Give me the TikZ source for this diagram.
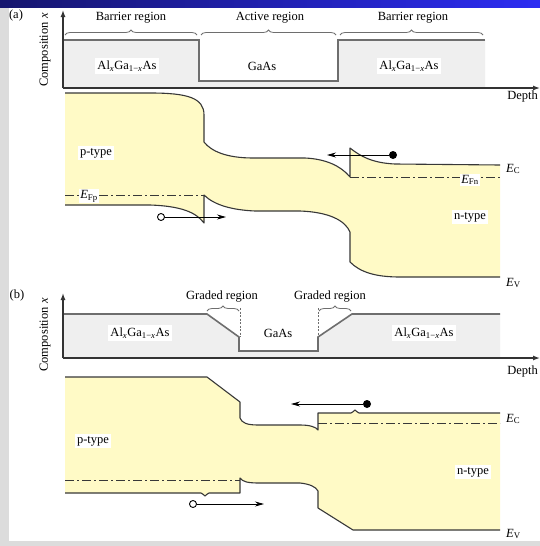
\documentclass[tikz,border=0pt]{standalone}
\usepackage{fontspec}
\setmainfont{Liberation Serif}
\usetikzlibrary{arrows.meta,decorations.pathreplacing}
\definecolor{bandfill}{HTML}{FFFAC6}
\definecolor{compfill}{HTML}{EFEFEF}
\definecolor{bandline}{HTML}{383838}
\definecolor{compline}{HTML}{6E6E6E}
\definecolor{navyL}{HTML}{16166E}
\definecolor{blueR}{HTML}{2C2CF2}
\definecolor{framegray}{HTML}{DCDCDC}
\begin{document}
\begin{tikzpicture}[x=1pt,y=-1pt,font=\fontsize{12.5}{14}\selectfont,
  band/.style={draw=bandline,line width=1.1pt,line join=round},
  compo/.style={draw=compline,line width=1.6pt,line join=miter},
  axisline/.style={draw=black!80,line width=1.3pt,-{Latex[length=7pt,width=5pt]}},
  fermi/.style={draw=bandline,line width=1pt,dash pattern=on 9pt off 3pt on 2pt off 3pt},
  lbl/.style={fill=white,inner sep=2.5pt},
  plain/.style={inner sep=1pt},
  carrier/.style={draw=black,line width=0.8pt,-{Stealth[length=9pt,width=5pt]}},
  hole/.style={circle,draw=black,fill=white,line width=0.9pt,minimum size=7pt,inner sep=0pt},
  elec/.style={circle,fill=black,minimum size=8pt,inner sep=0pt},
  bracestyle/.style={draw=compline,line width=0.8pt,decorate,decoration={brace,amplitude=5pt}},
  guide/.style={draw=compline,line width=0.8pt,dash pattern=on 2pt off 1.5pt}
]
\useasboundingbox (0,0) rectangle (540,546);
% slide frame
\fill[framegray] (0,0) rectangle (540,546);
\fill[white] (9,7) rectangle (540,541);
\shade[left color=navyL,right color=blueR] (0,0) rectangle (540,7);

% ================= (a) =================
\node[plain] (la) at (16,15) {(a)};
\fill[compfill] (63,40) -- (199,40) -- (199,81) -- (338,81) -- (338,40) -- (485,40) -- (485,88) -- (63,88) -- cycle;
\draw[compo] (63,40) -- (199,40) -- (199,81) -- (338,81) -- (338,40) -- (485,40);
\coordinate (ao) at (63,88);
\coordinate (ayt) at (63,10);
\coordinate (axt) at (540,88);
\draw[axisline] (ao) -- (ayt);
\draw[axisline] (ao) -- (axt);
\node[rotate=90,plain] (acomp) at (45,50) {Composition \textit{x}};
\node[plain,anchor=east] (adepth) at (539,96) {Depth};
\draw[bracestyle] (65,35) -- (197,35);
\draw[bracestyle] (201,35) -- (336,35);
\draw[bracestyle] (340,35) -- (483,35);
\node[plain] (abar1) at (131,18) {Barrier region};
\node[plain] (aact) at (270,18) {Active region};
\node[plain] (abar2) at (413,18) {Barrier region};
\node[lbl] (aal1) at (127,66) {Al\textsubscript{\textit{x}}Ga\textsubscript{1−\textit{x}}As};
\node[plain] (agaas) at (262,66) {GaAs};
\node[lbl] (aal2) at (409,66) {Al\textsubscript{\textit{x}}Ga\textsubscript{1−\textit{x}}As};

% band fill (a)
\begin{scope}
\clip (65,205) -- (150,205) .. controls (180,206) and (196,212) .. (204,223) -- (204,195) .. controls (214,205) and (232,210) .. (255,211) -- (300,211) .. controls (328,212) and (345,220) .. (350,232) -- (350,262) .. controls (360,272) and (375,277) .. (400,277) -- (500,277) -- (500,60) -- (65,60) -- cycle;
\clip (65,93) -- (150,93) .. controls (188,93) and (204,98) .. (204,115) -- (204,142) .. controls (211,151) and (226,158) .. (253,158) -- (305,158) .. controls (326,159) and (341,166) .. (350,177) -- (350,148) .. controls (360,156) and (372,163) .. (395,164) -- (500,165) -- (500,300) -- (65,300) -- cycle;
\fill[bandfill] (60,60) rectangle (505,300);
\end{scope}
\draw[band] (65,93) -- (150,93) .. controls (188,93) and (204,98) .. (204,115) -- (204,142) .. controls (211,151) and (226,158) .. (253,158) -- (305,158) .. controls (326,159) and (341,166) .. (350,177) -- (350,148) .. controls (360,156) and (372,163) .. (395,164) -- (500,165);
\draw[band] (65,205) -- (150,205) .. controls (180,206) and (196,212) .. (204,223) -- (204,195) .. controls (214,205) and (232,210) .. (255,211) -- (300,211) .. controls (328,212) and (345,220) .. (350,232) -- (350,262) .. controls (360,272) and (375,277) .. (400,277) -- (500,277);
\draw[fermi] (65,195) -- (204,195);
\draw[fermi] (350,177) -- (500,177);
\node[lbl,inner sep=1.5pt] (aefp) at (89,196) {\textit{E}\textsubscript{Fp}};
\node[lbl,inner sep=1.5pt] (aefn) at (470,180) {\textit{E}\textsubscript{Fn}};
\node[lbl] (aptype) at (96,153) {p-type};
\node[lbl] (antype) at (470,217) {n-type};
\node[plain,anchor=west] (aec) at (505,169) {\textit{E}\textsubscript{C}};
\node[plain,anchor=west] (aev) at (505,283) {\textit{E}\textsubscript{V}};
\node[hole] (ah) at (161,217) {};
\coordinate (ahend) at (226,217);
\draw[carrier] (ah) -- (ahend);
\node[elec] (ae) at (393,155) {};
\coordinate (aeend) at (327,155);
\draw[carrier] (ae) -- (aeend);

% ================= (b) =================
\node[plain] (lb) at (17,295) {(b)};
\fill[compfill] (63,314) -- (207,314) -- (239,337) -- (239,351) -- (318,351) -- (318,337) -- (352,314) -- (500,314) -- (500,358) -- (63,358) -- cycle;
\draw[compo] (63,314) -- (207,314) -- (239,337) -- (239,351) -- (318,351) -- (318,337) -- (352,314) -- (500,314);
\draw[guide] (240,308) -- (240,337);
\draw[guide] (318,308) -- (318,337);
\coordinate (bo) at (63,358);
\coordinate (byt) at (63,293);
\coordinate (bxt) at (540,358);
\draw[axisline] (bo) -- (byt);
\draw[axisline] (bo) -- (bxt);
\node[rotate=90,plain] (bcomp) at (45,335) {Composition \textit{x}};
\node[plain,anchor=east] (bdepth) at (539,371) {Depth};
\draw[bracestyle] (207,311) -- (239,311);
\draw[bracestyle] (319,311) -- (351,311);
\node[plain] (bgr1) at (222,297) {Graded region};
\node[plain] (bgr2) at (330,297) {Graded region};
\node[lbl] (bal1) at (140,333) {Al\textsubscript{\textit{x}}Ga\textsubscript{1−\textit{x}}As};
\node[plain] (bgaas) at (278,333) {GaAs};
\node[lbl] (bal2) at (424,333) {Al\textsubscript{\textit{x}}Ga\textsubscript{1−\textit{x}}As};

% band fill (b)
\begin{scope}
\clip (65,493) -- (201,493) .. controls (203,493) and (204,496) .. (205,496) .. controls (206,496) and (207,493) .. (209,493) -- (240,493) -- (240,478) .. controls (243,482) and (248,483) .. (260,483) -- (300,483) .. controls (310,484) and (316,487) .. (318,491) -- (318,508) -- (353,530) -- (500,530) -- (500,365) -- (65,365) -- cycle;
\clip (65,377) -- (207,377) -- (240,402) -- (240,418) .. controls (242,423) and (247,425) .. (258,425) -- (300,425) .. controls (310,425) and (316,427) .. (318,430) -- (318,413) -- (351,413) .. controls (353,413) and (354,410) .. (355,410) .. controls (356,410) and (357,413) .. (359,413) -- (500,413) -- (500,538) -- (65,538) -- cycle;
\fill[bandfill] (60,365) rectangle (505,538);
\end{scope}
\draw[band] (65,377) -- (207,377) -- (240,402) -- (240,418) .. controls (242,423) and (247,425) .. (258,425) -- (300,425) .. controls (310,425) and (316,427) .. (318,430) -- (318,413) -- (351,413) .. controls (353,413) and (354,410) .. (355,410) .. controls (356,410) and (357,413) .. (359,413) -- (500,413);
\draw[band] (65,493) -- (201,493) .. controls (203,493) and (204,496) .. (205,496) .. controls (206,496) and (207,493) .. (209,493) -- (240,493) -- (240,478) .. controls (243,482) and (248,483) .. (260,483) -- (300,483) .. controls (310,484) and (316,487) .. (318,491) -- (318,508) -- (353,530) -- (500,530);
\draw[fermi] (65,480) -- (240,480);
\draw[fermi] (318,423) -- (500,423);
\node[lbl] (bptype) at (93,441) {p-type};
\node[lbl] (bntype) at (473,472) {n-type};
\node[plain,anchor=west] (bec) at (505,419) {\textit{E}\textsubscript{C}};
\node[plain,anchor=west] (bev) at (505,534) {\textit{E}\textsubscript{V}};
\node[hole] (bh) at (193,504) {};
\coordinate (bhend) at (264,504);
\draw[carrier] (bh) -- (bhend);
\node[elec] (be) at (367,404) {};
\coordinate (beend) at (291,404);
\draw[carrier] (be) -- (beend);
\end{tikzpicture}
\end{document}
